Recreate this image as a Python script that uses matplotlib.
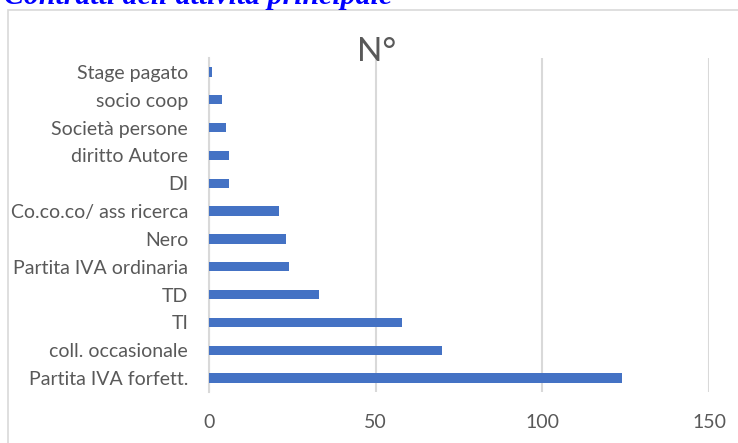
import matplotlib.pyplot as plt
from matplotlib.patches import Rectangle

# data (bottom to top)
categories = ["Partita IVA forfett.", "coll. occasionale", "TI", "TD",
              "Partita IVA ordinaria", "Nero", "Co.co.co/ ass ricerca", "DI",
              "diritto Autore", "Società persone", "socio coop", "Stage pagato"]
values = [124, 70, 58, 33, 24, 23, 21, 6, 6, 5, 4, 1]
xticks = [0, 50, 100, 150]

W, H = 738, 443
fig = plt.figure(figsize=(W / 100, H / 100), dpi=100)

# chart border (runs off the right and bottom edges)
fig.patches.append(Rectangle((8 / W, -0.1), 1.2, 1 - 10 / H + 0.1,
                             transform=fig.transFigure, fill=False,
                             edgecolor="#d9d9d9", linewidth=1.2))

# clipped heading above the chart
fig.text(4 / W, 1 - 4.5 / H, "Contratti dell'attività principale",
         family="Liberation Serif", weight="bold", style="italic",
         color="#0000ff", fontsize=21.5, ha="left", va="baseline")

ax = fig.add_axes([209 / W, 1 - 392 / H, 500 / W, (392 - 58) / H])
ypos = list(range(len(categories)))
ax.barh(ypos, values, height=0.33, color="#4472C4", zorder=3)

ax.set_xlim(0, 150)
ax.set_ylim(-0.5, len(categories) - 0.5)
ax.set_xticks(xticks)
ax.set_yticks(ypos)
ax.set_yticklabels(categories)
ax.xaxis.grid(True, color="#d9d9d9", linewidth=1.5, zorder=0)
ax.set_axisbelow(True)

for s in ["top", "right", "bottom"]:
    ax.spines[s].set_visible(False)
ax.spines["left"].set_color("#d9d9d9")
ax.spines["left"].set_linewidth(1.5)
ax.tick_params(length=0, colors="#595959", labelsize=14)
ax.tick_params(axis="x", pad=16)
ax.tick_params(axis="y", pad=15)
for lab in ax.get_xticklabels() + ax.get_yticklabels():
    lab.set_family("Lato")

fig.text(377 / W, 1 - 52 / H, "N°", family="Lato", fontsize=24,
         color="#595959", ha="center", va="center")

fig.savefig("out.png", dpi=100)
